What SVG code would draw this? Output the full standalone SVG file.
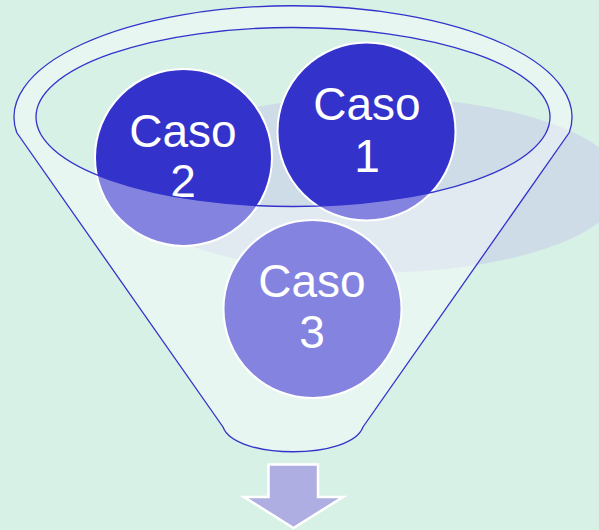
<svg xmlns="http://www.w3.org/2000/svg" width="599" height="530" viewBox="0 0 599 530">
  <style>
    .node { fill: #3333cc; stroke: #ffffff; stroke-width: 2; }
    .label { font-family: "Liberation Sans", Arial, sans-serif; font-size: 46px; fill: #ffffff; text-anchor: middle; }
    .glass { fill: #ffffff; fill-opacity: 0.4; fill-rule: evenodd; stroke: none; }
    .edge { fill: none; stroke: #3333cc; stroke-width: 1.3; }
  </style>
  <rect x="0" y="0" width="599" height="530" fill="#d8f1e6"/>
  <g id="shadow">
    <ellipse cx="372" cy="185" rx="251" ry="88" fill="#cedce7"/>
  </g>
  <g id="caso2">
    <circle class="node" cx="183.5" cy="157.5" r="88.5"/>
    <text class="label" x="183" y="146.7">Caso</text>
    <text class="label" x="183" y="197">2</text>
  </g>
  <g id="caso1">
    <circle class="node" cx="366.5" cy="131.5" r="89"/>
    <text class="label" x="367" y="120">Caso</text>
    <text class="label" x="367" y="171.5">1</text>
  </g>
  <g id="caso3">
    <circle class="node" cx="312.5" cy="309" r="89"/>
    <text class="label" x="312" y="297">Caso</text>
    <text class="label" x="312" y="348">3</text>
  </g>
  <g id="funnel">
    <path class="glass" d="M16.7,132.5 A279,111.3 0 1 1 569.3,132.5 L363,427 C351,460 235,460 223,427 Z M36,117 A257,89.5 0 1 0 550,117 A257,89.5 0 1 0 36,117 Z"/>
    <path class="edge" d="M16.7,132.5 A279,111.3 0 1 1 569.3,132.5 L363,427 C351,460 235,460 223,427 Z"/>
    <ellipse class="edge" cx="293" cy="117" rx="257" ry="89.5"/>
  </g>
  <g id="connectors">
    <path d="M268.5,464.5 L318,464.5 L318,497 L343,497 L293.5,528 L244,497 L268.5,497 Z" fill="#aeaee2" stroke="#ffffff" stroke-width="2.5" stroke-linejoin="miter"/>
  </g>
</svg>
